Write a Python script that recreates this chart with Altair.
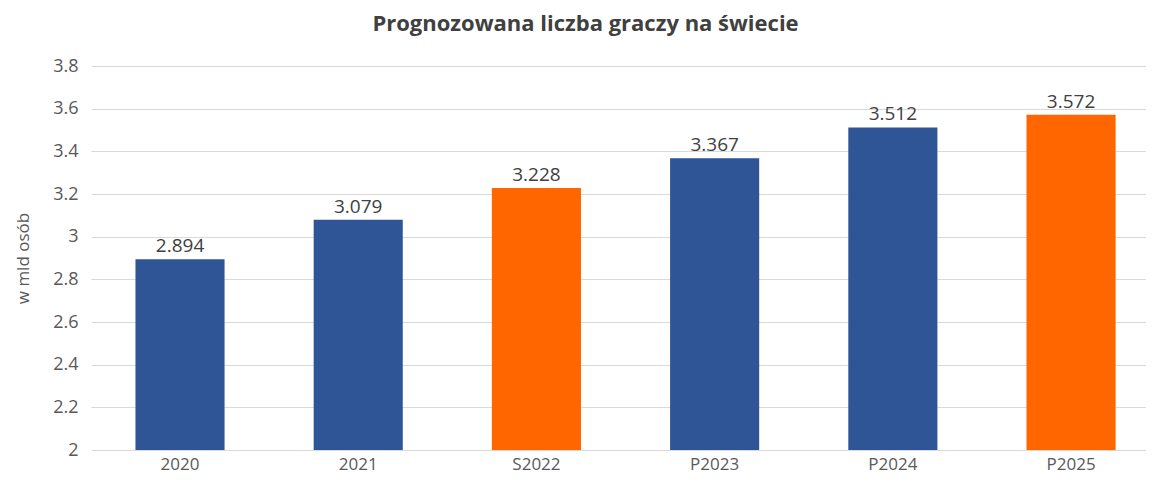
import altair as alt
import pandas as pd

categories = ["2020", "2021", "S2022", "P2023", "P2024", "P2025"]
values = [2.894, 3.079, 3.228, 3.367, 3.512, 3.572]
highlighted = ["S2022", "P2025"]
y_ticks = [2.0, 2.2, 2.4, 2.6, 2.8, 3.0, 3.2, 3.4, 3.6, 3.8]

df = pd.DataFrame({"cat": categories, "val": values})
df["label"] = [f"{v:.3f}" for v in values]
df["hl"] = df["cat"].isin(highlighted)

FONT = "Open Sans"
GRAY = "#595959"

x = alt.X("cat:N", sort=categories,
          scale=alt.Scale(paddingInner=0.5, paddingOuter=0.21, align=0.594),
          axis=alt.Axis(title=None, labelAngle=0, ticks=False, domain=False,
                        labelFont=FONT, labelFontSize=17, labelColor=GRAY,
                        labelPadding=6))
y = alt.Y("val:Q", scale=alt.Scale(domain=[2, 3.8], nice=False, zero=False),
          axis=alt.Axis(title="w mld osób", values=y_ticks, format="~g",
                        ticks=False, domain=False, grid=True, gridColor="#d9d9d9",
                        labelFont=FONT, labelFontSize=18, labelColor=GRAY,
                        labelPadding=13, titleFont=FONT, titleFontSize=17,
                        titleFontWeight="normal", titleColor=GRAY, titlePadding=20))

bars = alt.Chart(df).mark_bar().encode(
    x=x, y=y,
    y2=alt.datum(2),
    color=alt.condition("datum.hl", alt.value("#ff6600"), alt.value("#2f5597")),
)

labels = alt.Chart(df).mark_text(baseline="bottom", dy=-3, font=FONT,
                                 fontSize=19, color="#404040").encode(
    x=alt.X("cat:N", sort=categories), y=alt.Y("val:Q"), text="label:N")

chart = (bars + labels).properties(
    width=1055, height=384,
    autosize=alt.AutoSizeParams(type="none"),
    padding={"left": 83, "top": 58, "right": 0, "bottom": 28},
    title=alt.TitleParams("Prognozowana liczba graczy na świecie", font=FONT,
                          fontSize=22, fontWeight="bold", color="#404040",
                          anchor="middle", dx=-33, offset=21),
).configure_view(stroke=None)

chart.save("out.html", embed_options={"renderer": "svg", "actions": False})
